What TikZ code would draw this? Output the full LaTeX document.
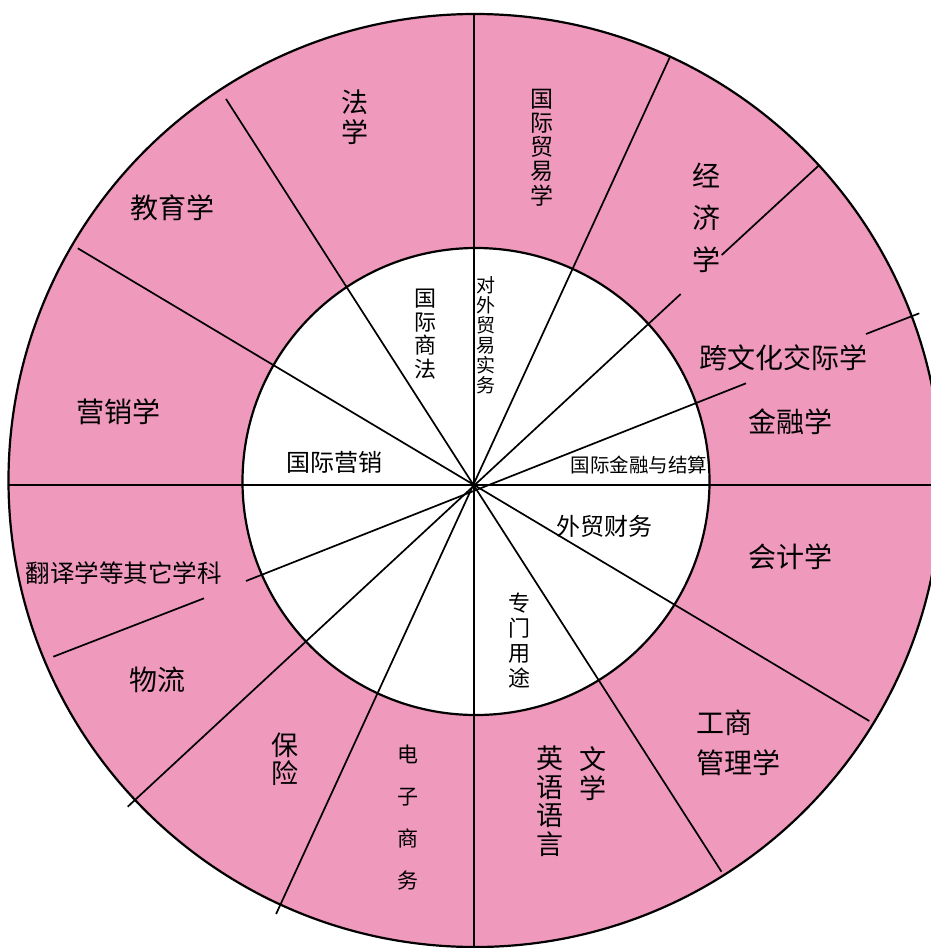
\documentclass[tikz,border=0pt]{standalone}
\usepackage{fontspec}
\setmainfont{Noto Sans CJK SC}
\definecolor{ringpink}{RGB}{239,153,188}
\tikzset{
  ray/.style={line width=1.7pt, black},
  rim/.style={line width=2.2pt, black},
  lab/.style={inner sep=0pt, align=center, text=black},
}
\newcommand\fsz[2]{\fontsize{#1}{#2}\selectfont}
\begin{document}
\begin{tikzpicture}[x=1pt,y=-1pt]
\useasboundingbox (0,0) rectangle (931,948);
\fill[white] (0,0) rectangle (931,948);
\coordinate (C1) at (475,480.5);
\coordinate (C2) at (476,481.5);
\draw[rim, fill=ringpink] (C1) circle[radius=466.5pt];
\draw[rim, fill=white] (C2) circle[radius=233.5pt];
% spokes
\draw[ray] (474,14) -- (474,947);
\draw[ray] (8.5,485) -- (941.5,485);
\draw[ray] (226,99) -- (721.5,871.7);
\draw[ray] (77.8,248.3) -- (869.3,721);
\draw[ray] (669.8,57.3) -- (276.1,914);
\draw[ray] (819.3,165) -- (721.7,255);
\draw[ray] (680.7,294) -- (127.7,806.7);
\draw[ray] (919.3,313.3) -- (866,334);
\draw[ray] (746,383.3) -- (246,581);
\draw[ray] (204,598.3) -- (53.3,656.7);
% outer ring labels
\node[lab, font=\fsz{28}{28}] (kwh) at (783,358) {跨文化交际学};
\node[lab, font=\fsz{28}{28}] (jrx) at (790,422) {金融学};
\node[lab, font=\fsz{28}{28}] (kjx) at (790,557) {会计学};
\node[lab, font=\fsz{28}{40}, align=left] (gsgl) at (738.5,743) {工商\\管理学};
\node[lab, font=\fsz{28}{28}] (yxx) at (118.7,411.7) {营销学};
\node[lab, font=\fsz{28}{28}] (wl) at (157,680) {物流};
\node[lab, font=\fsz{28}{28}] (jyx) at (172,208) {教育学};
\node[lab, font=\fsz{24.5}{24.5}] (fyx) at (123.8,572.7) {翻译学等其它学科};
\node[lab, font=\fsz{28}{42}] (jjx) at (706.7,218) {经\\济\\学};
\node[lab, font=\fsz{27}{30}] (fx) at (355,117.5) {法\\学};
\node[lab, font=\fsz{23}{24.2}] (gjmy) at (541.6,147.5) {国\\际\\贸\\易\\学};
\node[lab, font=\fsz{27}{28.5}] (yyyy) at (550,801) {英\\语\\语\\言};
\node[lab, font=\fsz{27}{28.5}] (wx) at (593,773.5) {文\\学};
\node[lab, font=\fsz{27}{27.5}] (bx) at (285,759) {保\\险};
\node[lab, font=\fsz{21}{42}] (dzsw) at (408,817.5) {电\\子\\商\\务};
% inner circle labels
\node[lab, font=\fsz{22}{25}] (zmyt) at (519,641) {专\\门\\用\\途};
\node[lab, font=\fsz{22}{23.75}] (gjsf) at (425,334) {国\\际\\商\\法};
\node[lab, font=\fsz{19}{20}] (dwmy) at (485.7,335) {对\\外\\贸\\易\\实\\务};
\node[lab, font=\fsz{19.5}{19.5}] (gjjr) at (639,465) {国际金融与结算};
\node[lab, font=\fsz{24}{24}] (gjyx) at (334,462) {国际营销};
\node[lab, font=\fsz{24}{24}] (wmcw) at (604,526) {外贸财务};
\end{tikzpicture}
\end{document}
